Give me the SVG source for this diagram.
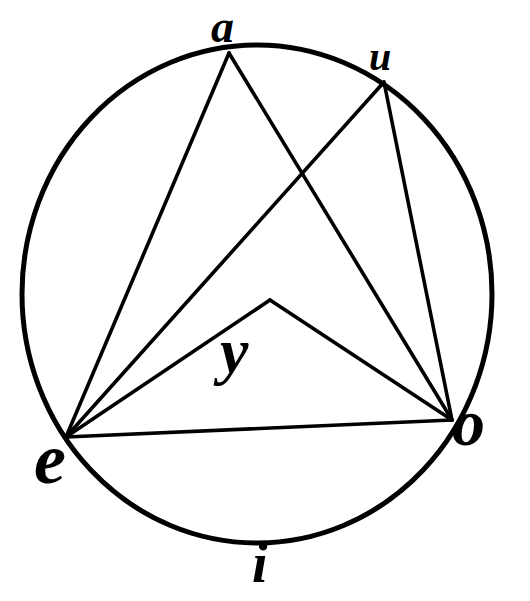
<svg xmlns="http://www.w3.org/2000/svg" width="530" height="601" viewBox="0 0 530 601">
<style>
.c{fill:none;stroke:#000;stroke-width:5}
.l{stroke:#000;stroke-width:3.6;stroke-linecap:round}
.t{font-family:"Liberation Serif",serif;font-style:italic;font-weight:bold;fill:#000}
</style>
<rect width="530" height="601" fill="#fff"/>
<g id="circle"><ellipse class="c" cx="257" cy="294" rx="235" ry="249"/></g>
<g id="connectors">
<line class="l" x1="66" y1="437" x2="229" y2="53"/>
<line class="l" x1="229" y1="53" x2="452" y2="420"/>
<line class="l" x1="66" y1="437" x2="384" y2="82"/>
<line class="l" x1="384" y1="82" x2="452" y2="420"/>
<line class="l" x1="66" y1="437" x2="270" y2="300"/>
<line class="l" x1="270" y1="300" x2="452" y2="420"/>
<line class="l" x1="66" y1="437" x2="452" y2="420"/>
</g>
<g id="a"><text class="t" x="211" y="42" style="font-size:46px">a</text></g>
<g id="u"><text class="t" x="369" y="70" style="font-size:40px">u</text></g>
<g id="e"><text class="t" x="34" y="483" style="font-size:72px">e</text></g>
<g id="o"><text class="t" x="452" y="445" style="font-size:66px">o</text></g>
<g id="i"><text class="t" x="252" y="582" style="font-size:56px">i</text></g>
<g id="y"><text class="t" x="220" y="372" style="font-size:64px">y</text></g>
</svg>
